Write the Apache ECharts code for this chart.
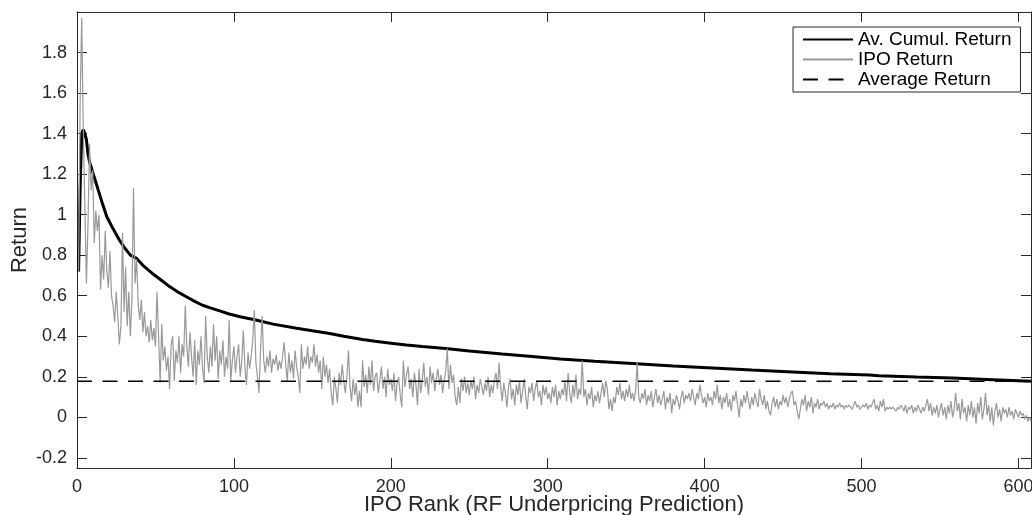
<!DOCTYPE html>
<html>
<head>
<meta charset="utf-8">
<script src="https://cdn.jsdelivr.net/npm/echarts@6/dist/echarts.min.js"></script>
<style>
html,body{margin:0;padding:0;background:#fff;}
#chart{width:1032px;height:515px;}
</style>
</head>
<body>
<div id="chart"></div>
<script>
// ---- data ----
// IPO return by rank (rank = index + 1)
const ipoReturn = [
0.72,1.55,1.97,1.42,1.05,0.66,0.95,1.35,1.12,1.22,
0.86,1.02,0.92,1.00,0.63,0.80,0.68,0.92,0.72,0.64,
0.82,0.60,0.55,0.47,0.62,0.50,0.36,0.45,0.91,0.52,
0.74,0.45,0.62,0.40,0.58,1.13,0.66,0.78,0.56,0.48,
0.58,0.42,0.52,0.40,0.45,0.37,0.48,0.38,0.44,0.35,
0.62,0.40,0.17,0.46,0.28,0.35,0.23,0.30,0.14,0.36,
0.40,0.18,0.33,0.27,0.40,0.22,0.36,0.30,0.55,0.35,
0.25,0.42,0.30,0.20,0.38,0.16,0.33,0.26,0.40,0.24,
0.17,0.50,0.30,0.22,0.35,0.25,0.46,0.28,0.40,0.19,
0.33,0.26,0.38,0.20,0.30,0.24,0.48,0.18,0.28,0.35,
0.22,0.30,0.36,0.20,0.28,0.43,0.25,0.16,0.32,0.24,
0.30,0.38,0.53,0.27,0.20,0.12,0.34,0.50,0.28,0.22,
0.30,0.25,0.33,0.22,0.29,0.26,0.31,0.23,0.28,0.24,
0.30,0.37,0.26,0.18,0.32,0.22,0.28,0.19,0.33,0.25,
0.20,0.12,0.36,0.24,0.30,0.26,0.35,0.24,0.30,0.27,
0.36,0.25,0.31,0.22,0.28,0.14,0.30,0.20,0.26,0.17,
0.24,0.12,0.06,0.20,0.14,0.07,0.22,0.16,0.26,0.18,
0.12,0.20,0.33,0.15,0.08,0.19,0.11,0.17,0.05,0.13,
0.05,0.28,0.15,0.21,0.12,0.25,0.16,0.28,0.13,0.20,
0.22,0.12,0.18,0.25,0.14,0.20,0.10,0.24,0.16,0.19,
0.13,0.22,0.08,0.17,0.20,0.11,0.05,0.28,0.15,0.21,
0.25,0.14,0.19,0.10,0.22,0.16,0.06,0.24,0.12,0.18,
0.27,0.15,0.20,0.11,0.25,0.17,0.22,0.13,0.19,0.24,
0.16,0.21,0.12,0.18,0.23,0.34,0.14,0.26,0.17,0.21,
0.10,0.06,0.15,0.07,0.19,0.13,0.20,0.12,0.17,0.11,
0.18,0.14,0.20,0.09,0.16,0.12,0.19,0.15,0.11,0.17,
0.13,0.20,0.10,0.16,0.12,0.18,0.22,0.14,0.27,0.15,
0.08,0.17,0.12,0.05,0.15,0.19,0.09,0.14,0.06,0.16,
0.11,0.18,0.07,0.13,0.19,0.10,0.04,0.15,0.12,0.17,
0.08,0.14,0.18,0.10,0.13,0.06,0.16,0.11,0.15,0.09,
0.12,0.07,0.15,0.10,0.16,0.06,0.13,0.09,0.14,0.11,
0.18,0.08,0.22,0.12,0.07,0.16,0.10,0.21,0.09,0.14,
0.11,0.28,0.10,0.14,0.06,0.12,0.09,0.15,0.05,0.11,
0.08,0.13,0.07,0.12,0.17,0.10,0.18,0.14,0.04,0.09,
0.03,0.10,0.07,0.15,0.11,0.17,0.09,0.13,0.08,0.14,
0.10,0.16,0.09,0.12,0.08,0.13,0.27,0.10,0.07,0.12,
0.09,0.14,0.06,0.11,0.08,0.13,0.05,0.10,0.14,0.07,
0.11,0.06,0.09,0.13,0.04,0.10,0.07,0.12,0.02,0.09,
0.06,0.11,0.08,0.04,0.10,0.13,0.07,0.11,0.09,0.12,
0.08,0.14,0.10,0.06,0.12,0.09,0.16,0.11,0.07,0.10,
0.05,0.12,0.08,0.10,0.06,0.13,0.09,0.16,0.07,0.11,
0.04,0.10,0.07,0.12,0.05,0.09,0.03,0.11,0.08,0.13,
0.06,0.00,0.09,0.05,0.11,0.07,0.13,0.08,0.04,0.10,
0.06,0.12,0.08,0.05,0.14,0.09,0.06,0.11,0.04,0.08,
0.03,0.01,0.07,0.10,0.05,0.09,0.04,0.08,0.06,0.11,
0.07,0.10,0.05,0.09,0.12,0.13,0.06,0.08,0.03,-0.01,
0.04,0.09,0.06,0.11,0.03,0.08,0.05,0.10,0.02,0.07,
0.05,0.09,0.04,0.07,0.06,0.08,0.05,0.07,0.04,0.06,
0.05,0.07,0.04,0.06,0.05,0.07,0.05,0.06,0.04,0.06,
0.05,0.06,0.05,0.04,0.06,0.08,0.05,0.06,0.04,0.05,
0.06,0.05,0.07,0.04,0.06,0.05,0.07,0.09,0.04,0.06,
0.03,0.08,0.05,0.09,0.03,0.05,0.04,0.05,0.04,0.05,
0.04,0.03,0.05,0.04,0.06,0.05,0.03,0.06,0.02,0.05,
0.04,0.06,0.02,0.05,0.03,0.06,0.04,0.02,0.05,0.03,
0.06,0.09,0.03,0.07,0.01,0.05,0.02,0.06,0.00,0.04,
0.07,0.01,0.05,-0.01,0.06,0.02,0.08,0.00,0.04,0.12,
0.03,0.07,-0.01,0.09,0.02,0.05,-0.02,0.06,0.01,0.08,
0.00,0.05,-0.03,0.07,0.02,0.10,-0.01,0.04,0.12,0.01,
0.06,-0.02,0.05,-0.04,0.03,0.07,0.00,0.04,-0.02,0.05,
0.02,0.04,0.00,0.05,0.01,0.03,-0.01,0.04,0.02,0.00,
0.03,0.01,0.02,-0.01,0.01,-0.02,0.00,-0.02
];

// average cumulative return, read at selected ranks
const cumRanks  = [1,2,3,4,5,6,7,8,9,10,12,14,16,19,23,27,30,34,38,42,48,54,59,65,70,75,80,85,91,97,104,114,125,140,150,161,170,182,190,200,210,220,235,250,271,290,301,308,330,354,380,405,430,456,480,505,511,535,558,580,608];
const cumValues = [0.72,1.13,1.40,1.42,1.40,1.37,1.30,1.26,1.235,1.21,1.16,1.11,1.06,0.99,0.93,0.875,0.84,0.80,0.784,0.75,0.71,0.675,0.645,0.615,0.594,0.572,0.553,0.54,0.525,0.51,0.496,0.48,0.46,0.44,0.427,0.414,0.40,0.384,0.375,0.366,0.357,0.35,0.34,0.327,0.312,0.30,0.293,0.288,0.277,0.266,0.253,0.243,0.233,0.224,0.215,0.209,0.205,0.199,0.194,0.187,0.178];

const averageReturn = 0.178;

const xRange = [0, 608];
const yRange = [-0.25, 2.0];
const xTicks = [0,100,200,300,400,500,600];
const yTicks = [-0.2,0,0.2,0.4,0.6,0.8,1,1.2,1.4,1.6,1.8];

const seriesNames = ['Av. Cumul. Return','IPO Return','Average Return'];
const xName = 'IPO Rank (RF Underpricing Prediction)';
const yName = 'Return';

// ---- chart ----
const axisColor = '#262626';
const font = 'Liberation Sans, Arial, Helvetica, sans-serif';

const chart = echarts.init(document.getElementById('chart'), null, {renderer:'canvas'});

function xAxisDef(pos, main){
  return {
    type:'value', position:pos, min:xRange[0], max:xRange[1],
    name: main ? xName : '', nameLocation:'middle', nameGap:37, nameMoveOverlap:false,
    nameTextStyle:{color:axisColor, fontSize:22, fontFamily:font, verticalAlign:'middle'},
    axisLine:{show:true, onZero:false, lineStyle:{color:axisColor, width:1}},
    axisTick:{show:true, inside:true, length:10, customValues:xTicks, lineStyle:{color:axisColor}},
    axisLabel:{show:main, customValues:xTicks, margin:10, color:axisColor, fontSize:18, fontFamily:font},
    splitLine:{show:false}
  };
}
function yAxisDef(pos, main){
  return {
    type:'value', position:pos, min:yRange[0], max:yRange[1],
    name: main ? yName : '', nameLocation:'middle', nameGap:57, nameRotate:90, nameMoveOverlap:false,
    nameTextStyle:{color:axisColor, fontSize:22, fontFamily:font, verticalAlign:'middle'},
    axisLine:{show:true, onZero:false, lineStyle:{color:axisColor, width:1}},
    axisTick:{show:true, inside:true, length:10, customValues:yTicks, lineStyle:{color:axisColor}},
    axisLabel:{show:main, customValues:yTicks, margin:10, color:axisColor, fontSize:18, fontFamily:font},
    splitLine:{show:false}
  };
}

chart.setOption({
  animation:false,
  backgroundColor:'#fff',
  grid:{left:77, right:1, top:12, bottom:47, containLabel:false, outerBoundsMode:'none'},
  xAxis:[xAxisDef('bottom', true), xAxisDef('top', false)],
  yAxis:[yAxisDef('left', true), yAxisDef('right', false)],
  legend:{
    orient:'vertical', left:793, top:27,
    data:seriesNames,
    itemWidth:50, itemHeight:14, itemGap:1,
    padding:[3,9,3,9],
    borderColor:axisColor, borderWidth:1, backgroundColor:'#fff',
    itemStyle:{opacity:0},
    textStyle:{color:'#000', fontSize:19, fontFamily:font, lineHeight:18},
    selectedMode:false
  },
  series:[
    {
      name:seriesNames[0], type:'line', symbol:'none',
      data: cumRanks.map((r,i)=>[r, cumValues[i]]),
      lineStyle:{color:'#000', width:3}, itemStyle:{color:'#000'}, z:3
    },
    {
      name:seriesNames[1], type:'line', symbol:'none',
      data: ipoReturn.map((v,i)=>[i+1, v]),
      lineStyle:{color:'#999999', width:1.2}, itemStyle:{color:'#999999'}, z:4
    },
    {
      name:seriesNames[2], type:'line', symbol:'none',
      data: [[xRange[0], averageReturn],[xRange[1], averageReturn]],
      lineStyle:{color:'#000', width:1.3, type:[15,10.5]}, itemStyle:{color:'#000'}, z:5
    }
  ]
});
</script>
</body>
</html>
